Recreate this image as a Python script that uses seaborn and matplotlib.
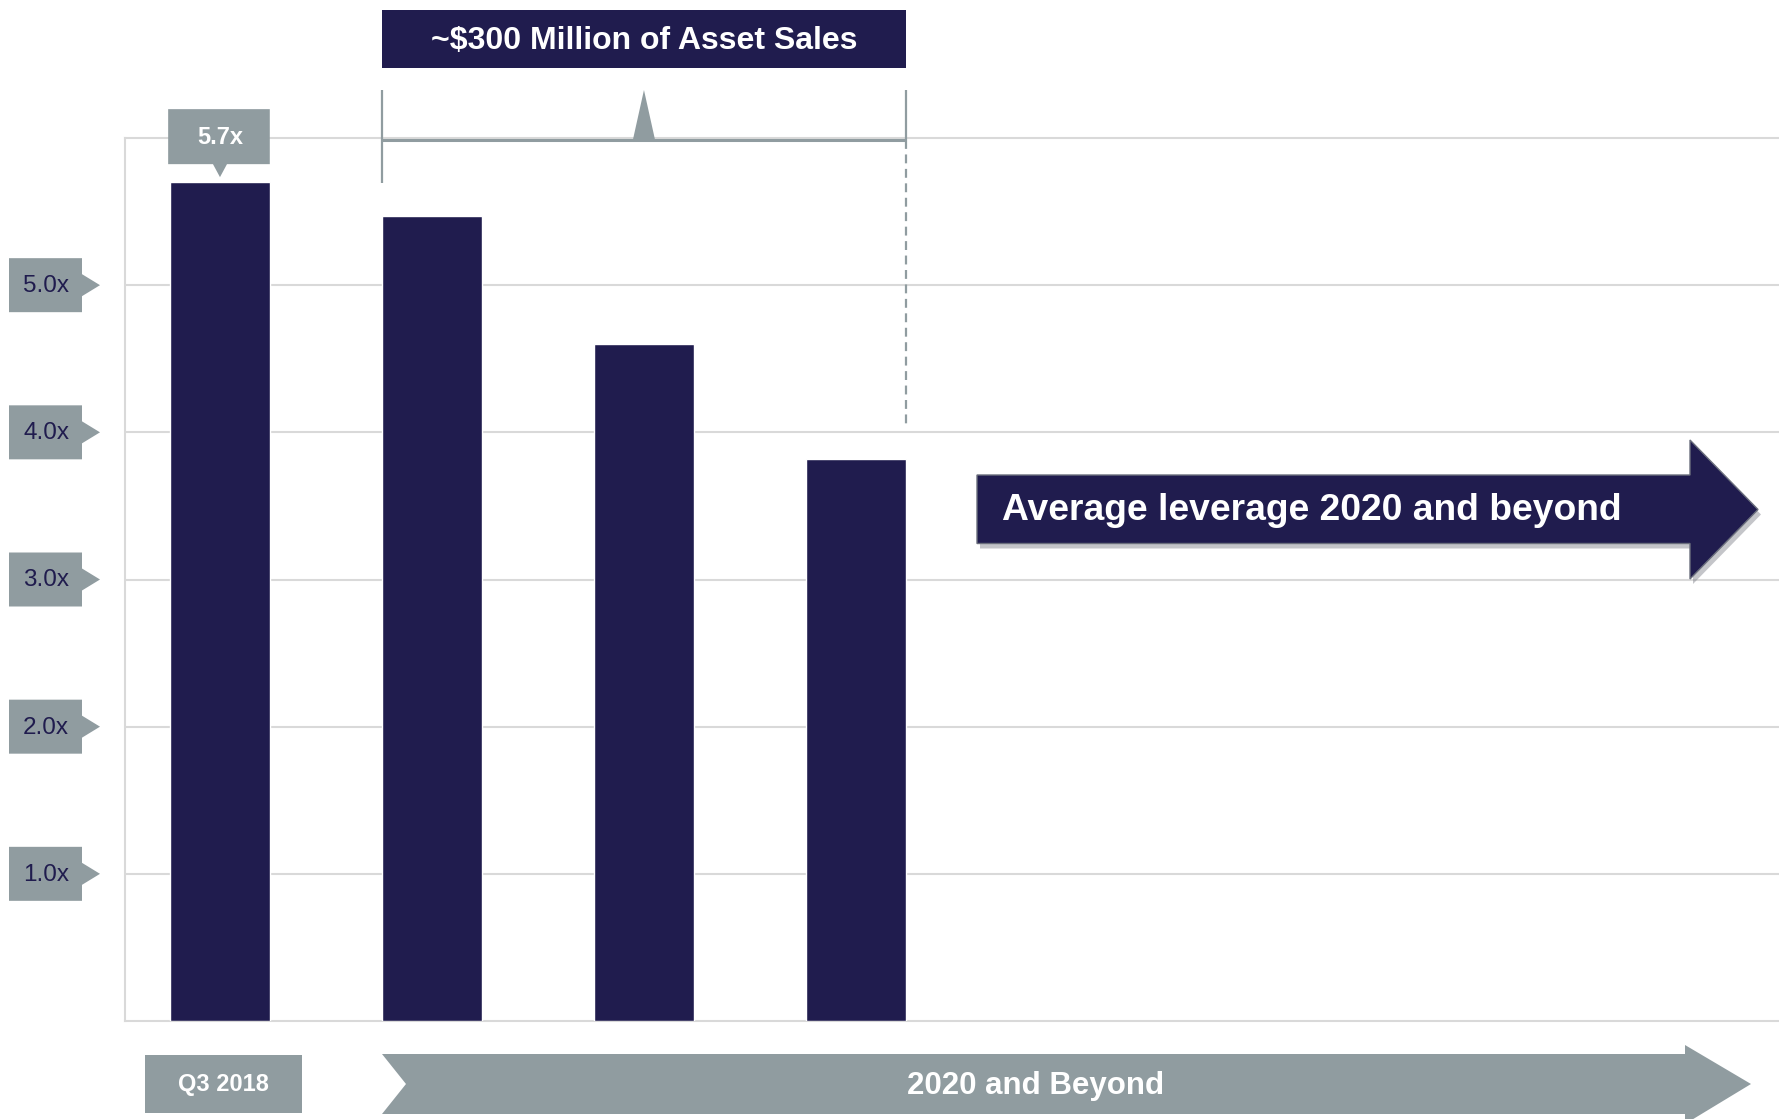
import matplotlib
matplotlib.use("Agg")
import matplotlib.pyplot as plt
from matplotlib.patches import Polygon, Rectangle
import pandas as pd
import seaborn as sns

# Net leverage path (debt / EBITDA, x)
periods = ["Q3 2018", "Step 1", "Step 2", "Step 3"]
leverage = [5.7, 5.47, 4.6, 3.82]
tick_values = [1.0, 2.0, 3.0, 4.0, 5.0]
tick_labels = ["1.0x", "2.0x", "3.0x", "4.0x", "5.0x"]
callout_label = "5.7x"
title_text = "~$300 Million of Asset Sales"
arrow_text = "Average leverage 2020 and beyond"
start_label = "Q3 2018"
span_label = "2020 and Beyond"

NAVY = "#201C4E"
SLATE = "#909CA0"
GRID = "#D9D9D9"

W, H = 1779, 1119
sns.set_theme(style="white")
plt.rcParams["font.family"] = ["Liberation Sans", "DejaVu Sans"]

fig = plt.figure(figsize=(W / 100, H / 100), dpi=100)
ax = fig.add_axes([125 / W, 1 - 1021 / H, 1 - 125 / W, (1021 - 138) / H])

df = pd.DataFrame({"period": periods, "leverage": leverage})
BAR_W = 0.47
sns.barplot(data=df, x="period", y="leverage", color=NAVY, saturation=1,
            width=BAR_W, ax=ax, zorder=3)
ax.set_xlim(-0.448, 7.354)
ax.set_ylim(0, 6)
ax.set_yticks(tick_values)
ax.yaxis.grid(True, color=GRID, lw=1.5, zorder=0)
ax.set_axisbelow(True)
ax.tick_params(left=False, bottom=False, labelleft=False, labelbottom=False)
ax.set_xlabel("")
ax.set_ylabel("")
for side in ["left", "top", "bottom"]:
    ax.spines[side].set_color(GRID)
    ax.spines[side].set_linewidth(1.5)
ax.spines["right"].set_visible(False)

# Overlay in pixel coordinates for the callouts and banners
ov = fig.add_axes([0, 0, 1, 1], zorder=5)
ov.set_xlim(0, W)
ov.set_ylim(H, 0)
ov.axis("off")
ov.patch.set_alpha(0)


def to_px(x, y):
    dx, dy = ax.transData.transform((x, y))
    return dx, H - dy


# y-axis value tags
for v, lab in zip(tick_values, tick_labels):
    _, py = to_px(0, v)
    pts = [(9, py - 27), (82, py - 27), (82, py - 11), (100, py),
           (82, py + 11), (82, py + 27), (9, py + 27)]
    ov.add_patch(Polygon(pts, closed=True, facecolor=SLATE, edgecolor="none"))
    ov.text(46, py + 1, lab, ha="center", va="center", color=NAVY, fontsize=17.5)

# value callout on the first bar
bx, by = to_px(0, leverage[0])
half = BAR_W / 2 * (to_px(1, 0)[0] - to_px(0, 0)[0])
cb = [(bx - half - 2, by - 73), (bx + half, by - 73), (bx + half, by - 18),
      (bx + 7, by - 18), (bx, by - 5), (bx - 7, by - 18), (bx - half - 2, by - 18)]
ov.add_patch(Polygon(cb, closed=True, facecolor=SLATE, edgecolor="none"))
ov.text(bx, by - 45, callout_label, ha="center", va="center", color="white",
        fontsize=17, fontweight="bold")

# asset-sale bracket spanning bars 2-4
x_left = to_px(1 - BAR_W / 2, 0)[0]
x_right = to_px(3 + BAR_W / 2, 0)[0]
ov.add_patch(Rectangle((x_left, 10), x_right - x_left, 58,
                       facecolor=NAVY, edgecolor="none"))
ov.text((x_left + x_right) / 2, 41, title_text, ha="center", va="center",
        color="white", fontsize=23, fontweight="bold")
y_br = 139.5
ov.plot([x_left, x_left], [90, 183], color=SLATE, lw=1.6, solid_capstyle="butt")
ov.plot([x_right, x_right], [90, y_br], color=SLATE, lw=1.6, solid_capstyle="butt")
ov.plot([x_left, x_right], [y_br, y_br], color=SLATE, lw=2.2, solid_capstyle="butt")
x_mid = (x_left + x_right) / 2
ov.add_patch(Polygon([(x_mid - 11, y_br), (x_mid, 90), (x_mid + 11, y_br)],
                     closed=True, facecolor=SLATE, edgecolor="none"))
y_dash_end = to_px(0, 4.0)[1] - 7
ov.plot([x_right, x_right], [y_br, y_dash_end], color=SLATE, lw=1.6,
        ls=(0, (4, 2.5)))

# leverage arrow on the right
arrow = [(977, 475), (1690, 475), (1690, 440), (1758, 509.5),
         (1690, 579), (1690, 543.5), (977, 543.5)]
shadow = [(x + 3, y + 5) for x, y in arrow]
ov.add_patch(Polygon(shadow, closed=True, facecolor="#7d7f88", alpha=0.45,
                     edgecolor="none"))
ov.add_patch(Polygon(arrow, closed=True, facecolor=NAVY, edgecolor="#6b6f7d",
                     lw=1.0))
ov.text(1002, 511, arrow_text, ha="left", va="center", color="white",
        fontsize=26.8, fontweight="bold")

# timeline labels along the bottom
ov.add_patch(Rectangle((145, 1055), 157, 58, facecolor=SLATE, edgecolor="none"))
ov.text(223, 1085, start_label, ha="center", va="center", color="white",
        fontsize=17, fontweight="bold")
span = [(382, 1054), (1685, 1054), (1685, 1045), (1751, 1084), (1685, 1124),
        (1685, 1114), (382, 1114), (406, 1084)]
ov.add_patch(Polygon(span, closed=True, facecolor=SLATE, edgecolor="none"))
ov.text(1036, 1086, span_label, ha="center", va="center", color="white",
        fontsize=22.5, fontweight="bold")

fig.savefig("out.png", dpi=100, facecolor="white")
